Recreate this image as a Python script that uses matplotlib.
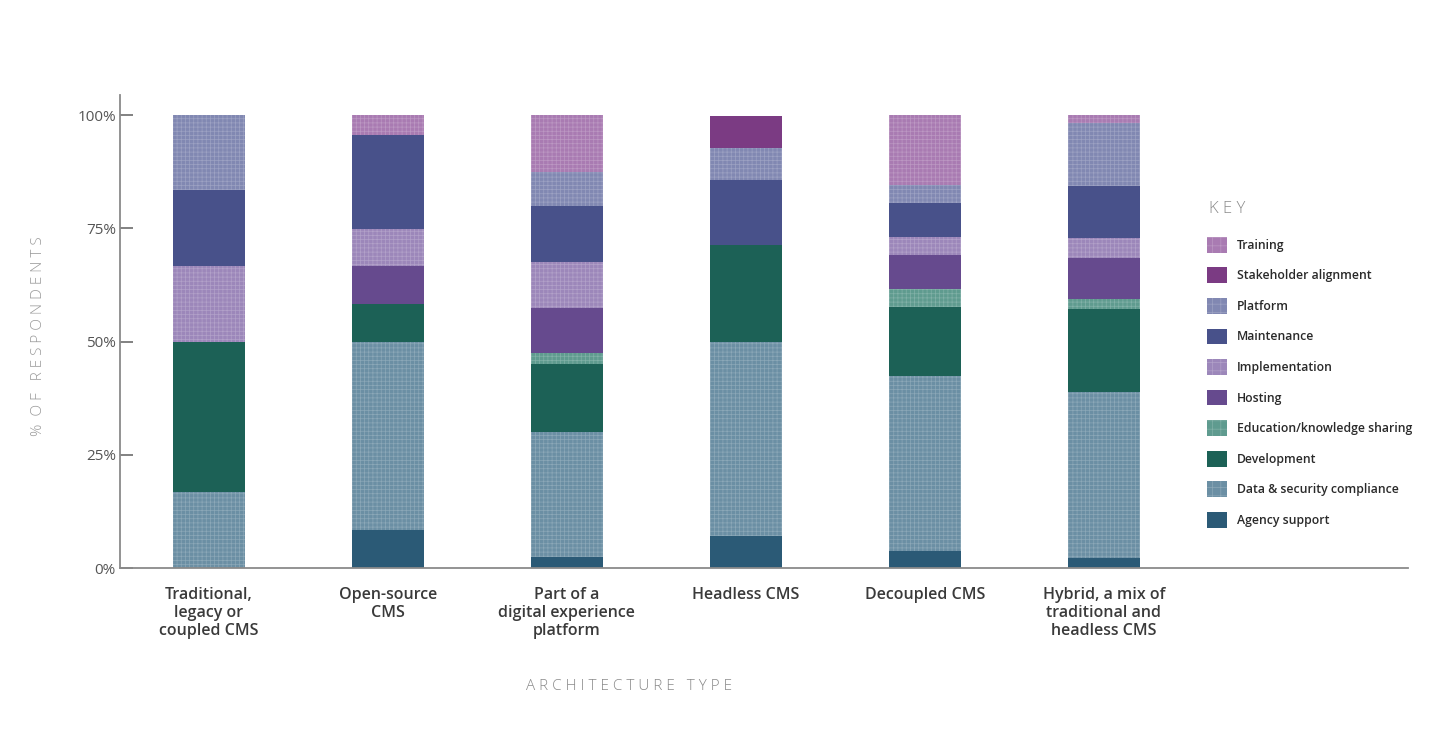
import matplotlib
matplotlib.use('Agg')
from matplotlib import pyplot as plt
from matplotlib.patches import Patch
from matplotlib import colors as mcolors
import numpy as np

plt.rcParams['font.family'] = ['Open Sans', 'DejaVu Sans']
plt.rcParams['hatch.linewidth'] = 0.5

categories = ['Traditional,\nlegacy or\ncoupled CMS', 'Open-source\nCMS',
              'Part of a\ndigital experience\nplatform', 'Headless CMS',
              'Decoupled CMS', 'Hybrid, a mix of\ntraditional and\nheadless CMS']

# stacked bottom -> top, % of respondents
agency = [0, 8.3, 2.5, 7.1, 3.8, 2.2]
data_sec = [16.7, 41.7, 27.5, 42.9, 38.5, 36.6]
development = [33.3, 8.3, 15.0, 21.4, 15.4, 18.3]
education = [0, 0, 2.5, 0, 3.8, 2.2]
hosting = [0, 8.3, 10.0, 0, 7.7, 9.1]
implementation = [16.7, 8.3, 10.0, 0, 3.8, 4.5]
maintenance = [16.7, 20.8, 12.5, 14.3, 7.7, 11.4]
platform = [16.6, 0, 7.5, 7.1, 3.8, 13.9]
stakeholder = [0, 0, 0, 7.1, 0, 0]
training = [0, 4.3, 12.5, 0, 15.5, 1.8]

series = [
    ('Agency support', agency, '#2b5a76', False),
    ('Data & security compliance', data_sec, '#6b8fa4', True),
    ('Development', development, '#1c6156', False),
    ('Education/knowledge sharing', education, '#5f9b8f', True),
    ('Hosting', hosting, '#664a8e', False),
    ('Implementation', implementation, '#9c87ba', True),
    ('Maintenance', maintenance, '#48518a', False),
    ('Platform', platform, '#8188b2', True),
    ('Stakeholder alignment', stakeholder, '#7b3b83', False),
    ('Training', training, '#a97bb2', True),
]


def lighter(c, f=0.25):
    r, g, b = mcolors.to_rgb(c)
    return (r + (1 - r) * f, g + (1 - g) * f, b + (1 - b) * f)


fig = plt.figure(figsize=(14.4, 7.32), dpi=100)
ax = fig.add_axes([0.0833, 0.224, 0.8945, 0.646])

x = np.arange(len(categories))
bottom = np.zeros(len(categories))
handles = []
for name, vals, col, hatched in series:
    vals = np.array(vals)
    if hatched:
        ax.bar(x, vals, 0.40, bottom=bottom, color=col, edgecolor=lighter(col, 0.22),
               linewidth=0, hatch='++++')
        h = Patch(facecolor=col, edgecolor=lighter(col, 0.22), linewidth=0, hatch='++')
    else:
        ax.bar(x, vals, 0.40, bottom=bottom, color=col, linewidth=0)
        h = Patch(facecolor=col, linewidth=0)
    bottom += vals
    handles.append((name, h))

ax.set_xlim(-0.497, 6.70)
ax.set_ylim(0, 104.4)
ax.set_yticks([0, 25, 50, 75, 100])
ax.set_yticklabels(['0%', '25%', '50%', '75%', '100%'], fontsize=11, color='#555555')
ax.set_xticks(x)
ax.set_xticklabels(categories, fontsize=11.5, color='#3a3a3a', fontweight='semibold',
                   linespacing=1.15, va='top')
ax.tick_params(axis='x', length=0, pad=14)
ax.tick_params(axis='y', direction='in', length=9, width=1.3, color='#777777', pad=3)

for s in ['top', 'right']:
    ax.spines[s].set_visible(False)
for s in ['left', 'bottom']:
    ax.spines[s].set_color('#8a8a8a')
    ax.spines[s].set_linewidth(1.3)

ax.set_ylabel('%  O F   R E S P O N D E N T S', fontsize=11, color='#9a9a9a',
              fontweight='light')
ax.yaxis.set_label_coords(-0.0578, 0.49)
ax.set_xlabel('A R C H I T E C T U R E   T Y P E', fontsize=11, color='#8a8a8a',
              fontweight='light')
ax.xaxis.set_label_coords(0.395, -0.234)

handles = handles[::-1]
leg = fig.legend([h for _, h in handles], [n for n, _ in handles], loc='upper left',
                 bbox_to_anchor=(0.8348, 0.683), frameon=False, fontsize=8.8,
                 handlelength=1.62, handleheight=1.62, labelspacing=1.2,
                 handletextpad=0.8, borderaxespad=0)
for t in leg.get_texts():
    t.set_color('#2a2a2a')
    t.set_fontweight('semibold')

fig.text(0.8395, 0.715, 'K E Y', fontsize=12, color='#8a8a8a', fontweight='light',
         va='center', ha='left')

fig.savefig('out.png', dpi=100, facecolor='white')
